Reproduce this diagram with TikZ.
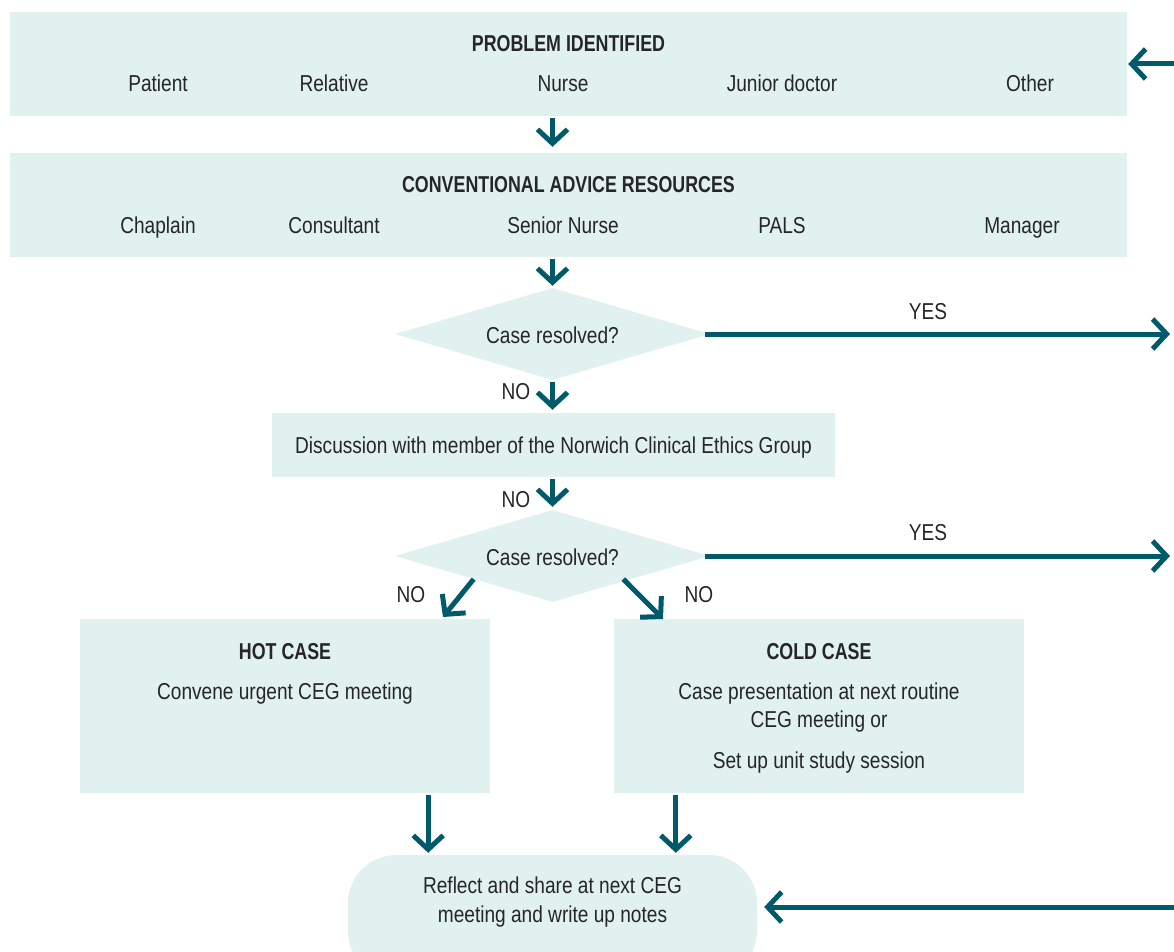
\documentclass[tikz,border=0pt]{standalone}
\usepackage{fontspec}
\setmainfont{Liberation Sans}[FakeStretch=0.83,BoldFeatures={FakeStretch=0.775}]
\usetikzlibrary{shapes.geometric,arrows.meta}
\definecolor{boxfill}{RGB}{224,241,240}
\definecolor{flowteal}{RGB}{0,90,105}
\definecolor{inkgrey}{RGB}{38,38,38}
\tikzset{
  panel/.style={fill=boxfill, inner sep=0pt},
  query/.style={diamond, fill=boxfill, inner sep=0pt, minimum width=315pt, minimum height=92pt},
  txt/.style={text=inkgrey, font=\fontsize{23}{28}\selectfont, inner sep=0pt, anchor=base},
  head/.style={txt, font=\fontsize{23}{28}\selectfont\bfseries},
  flow/.style={draw=flowteal, line width=5pt, -{Straight Barb[length=14pt,width=30pt]}},
}
\begin{document}
\begin{tikzpicture}[x=1pt,y=-1pt]
\useasboundingbox (0,0) rectangle (1174,952);
\clip (0,0) rectangle (1174,952);
\node[panel, minimum width=1117pt, minimum height=104pt] (problem) at (568.5,64) {};
\node[head] (problemtitle) at (568.5,52) {PROBLEM IDENTIFIED};
\node[txt] (patient) at (158,92) {Patient};
\node[txt] (relative) at (334,92) {Relative};
\node[txt] (nurse) at (563,92) {Nurse};
\node[txt] (junior) at (782,92) {Junior doctor};
\node[txt] (other) at (1030,92) {Other};
\node[panel, minimum width=1117pt, minimum height=104pt] (advice) at (568.5,205) {};
\node[head] (advicetitle) at (568.5,193) {CONVENTIONAL ADVICE RESOURCES};
\node[txt] (chaplain) at (158,233) {Chaplain};
\node[txt] (consultant) at (334,233) {Consultant};
\node[txt] (senior) at (563,233) {Senior Nurse};
\node[txt] (pals) at (782,233) {PALS};
\node[txt] (manager) at (1022,233) {Manager};
\node[query] (resolvedA) at (552.5,334) {};
\node[txt] (resolvedAtxt) at (552.5,343) {Case resolved?};
\node[panel, minimum width=563pt, minimum height=64pt] (discuss) at (553.5,445) {};
\node[txt] (discusstxt) at (553.5,453) {Discussion with member of the Norwich Clinical Ethics Group};
\node[query] (resolvedB) at (552.5,556) {};
\node[txt] (resolvedBtxt) at (552.5,565) {Case resolved?};
\node[panel, minimum width=410pt, minimum height=174pt] (hot) at (285,706) {};
\node[head] (hottitle) at (285,659) {HOT CASE};
\node[txt] (hottxt) at (285,699) {Convene urgent CEG meeting};
\node[panel, minimum width=410pt, minimum height=174pt] (cold) at (819,706) {};
\node[head] (coldtitle) at (819,659) {COLD CASE};
\node[txt] (coldtxtA) at (819,699) {Case presentation at next routine};
\node[txt] (coldtxtB) at (819,727) {CEG meeting or};
\node[txt] (coldtxtC) at (819,768) {Set up unit study session};
\node[panel, rounded corners=48pt, minimum width=409pt, minimum height=124pt] (reflect) at (552.5,917) {};
\node[txt] (reflecttxtA) at (552.5,893) {Reflect and share at next CEG};
\node[txt] (reflecttxtB) at (552.5,922) {meeting and write up notes};
\node[txt] (noA) at (516,399) {NO};
\node[txt] (noB) at (516,507) {NO};
\node[txt] (noC) at (411,602) {NO};
\node[txt] (noD) at (699,602) {NO};
\node[txt] (yesA) at (928,319) {YES};
\node[txt] (yesB) at (928,540) {YES};
\coordinate (yesAout) at (1170,334);
\coordinate (yesBout) at (1170,556);
\coordinate (hotin) at (443,617);
\coordinate (coldin) at (663,619);
\coordinate (loopA) at (1176,64);
\coordinate (loopB) at (1176,907);
\draw[flow, shorten <=2pt, shorten >=6pt] (problem.south -| resolvedA) -- (advice.north -| resolvedA);
\draw[flow, shorten <=2pt, shorten >=2pt] (advice.south -| resolvedA) -- (resolvedA.north);
\draw[flow, shorten <=2pt, shorten >=3pt] (resolvedA.south) -- (discuss.north -| resolvedA);
\draw[flow, shorten <=2pt, shorten >=3pt] (discuss.south -| resolvedB) -- (resolvedB.north);
\draw[flow, shorten <=-5pt] (resolvedA.east) -- (yesAout);
\draw[flow, shorten <=-5pt] (resolvedB.east) -- (yesBout);
\draw[flow] (resolvedB.south west) -- (hotin);
\draw[flow] ([xshift=-8pt]resolvedB.south east) -- (coldin);
\draw[flow, shorten <=2pt, shorten >=2pt] ([xshift=-62pt]hot.south east) -- ([xshift=-62pt]hot.south east |- reflect.north);
\draw[flow, shorten <=2pt, shorten >=2pt] ([xshift=62pt]cold.south west) -- ([xshift=62pt]cold.south west |- reflect.north);
\draw[flow, shorten >=1pt] (loopA) -- (problem.east);
\draw[flow, shorten >=7pt] (loopB) -- (loopB -| reflect.east);
\end{tikzpicture}
\end{document}
